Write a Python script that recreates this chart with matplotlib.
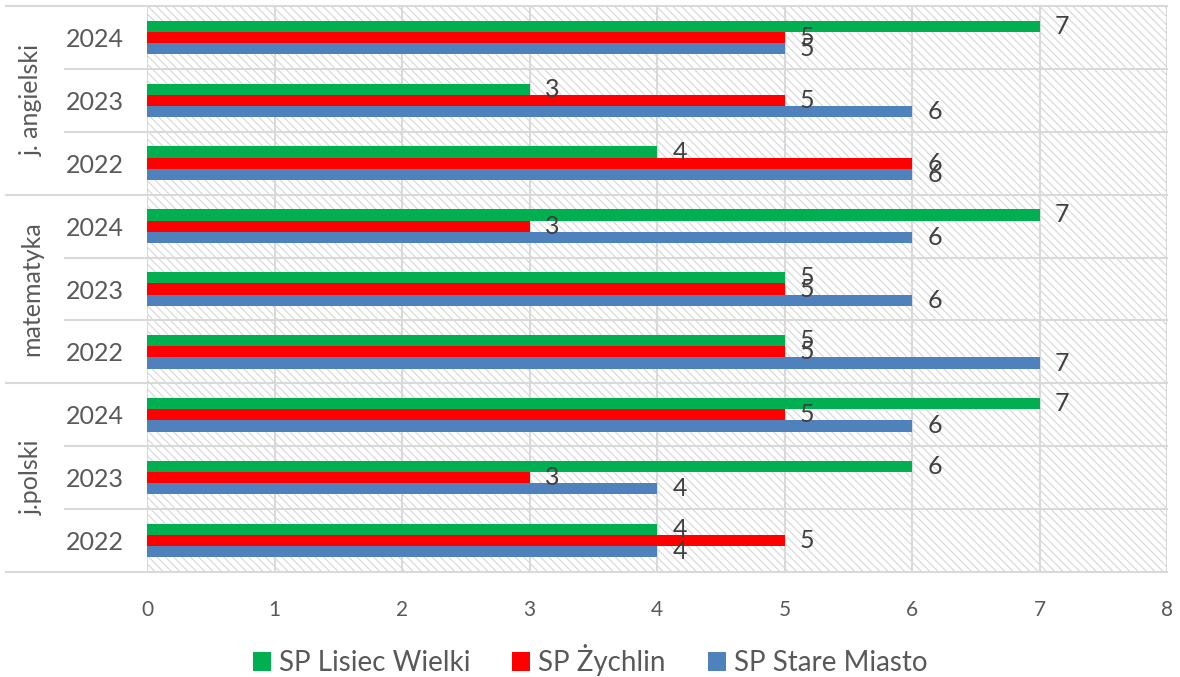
import numpy as np
import matplotlib.pyplot as plt
from matplotlib.patches import Rectangle
from matplotlib.transforms import blended_transform_factory

plt.rcParams['font.family'] = ['Lato', 'DejaVu Sans']
plt.rcParams['hatch.linewidth'] = 0.8

# rows from bottom to top
subjects = ["j.polski", "matematyka", "j. angielski"]
years = ["2022", "2023", "2024"]
schools = ["SP Lisiec Wielki", "SP Żychlin", "SP Stare Miasto"]
colors = ["#00b050", "#ff0000", "#4f81bd"]

lisiec = [4, 6, 7, 5, 5, 7, 4, 3, 7]
zychlin = [5, 3, 5, 5, 5, 3, 6, 5, 5]
stare = [4, 4, 6, 7, 6, 6, 6, 6, 5]
series = [lisiec, zychlin, stare]

grid_c = "#d9d9d9"
text_c = "#595959"
label_c = "#404040"

fig = plt.figure(figsize=(11.8, 6.77), dpi=100)
ax = fig.add_axes([147 / 1180, 1 - 572 / 677, 1020 / 1180, 566 / 677])

n_rows = len(lisiec)
y = np.arange(n_rows)
bh = 0.178
offsets = [bh, 0, -bh]

# hatched plot background
ax.add_patch(Rectangle((0, -0.5), 8, n_rows, facecolor="white", edgecolor="#d6d6d6",
                       hatch="\\\\\\\\", linewidth=0, zorder=0))

for vals, col, off, name in zip(series, colors, offsets, schools):
    ax.barh(y + off, vals, height=bh, color=col, label=name, zorder=3)
    for yi, v in zip(y, vals):
        ax.annotate(str(v), xy=(v, yi + off), xytext=(11, 0), textcoords="offset points",
                    va="center", ha="left", fontsize=18, color=label_c, zorder=4)

ax.set_xlim(0, 8)
ax.set_ylim(-0.5, n_rows - 0.5)
ax.set_xticks(range(0, 9))
ax.tick_params(axis="x", length=0, labelsize=15, colors=text_c, pad=20)
ax.set_yticks(y)
ax.set_yticklabels(years * len(subjects))
ax.tick_params(axis="y", length=0, labelsize=18, colors=text_c, pad=17)

for s in ax.spines.values():
    s.set_visible(False)
for xv in range(0, 9):
    ax.axvline(xv, color=grid_c, lw=1.5, zorder=1)

# row separators, longer ones between subjects
tr = blended_transform_factory(ax.transAxes, ax.transData)
for k in range(n_rows + 1):
    yb = k - 0.5
    x0 = -0.138 if k % 3 == 0 else -0.080
    ax.plot([x0, 1], [yb, yb], color=grid_c, lw=1.5, transform=tr, clip_on=False, zorder=1)

for i, subj in enumerate(subjects):
    ax.text(-0.113, i * 3 + 1, subj, transform=tr, rotation=90, ha="center", va="center",
            fontsize=18, color=text_c)

leg = ax.legend(loc="center", bbox_to_anchor=(0.5, 1 - 660 / 677), bbox_transform=fig.transFigure,
                ncol=3, frameon=False, fontsize=20, handlelength=0.65, handleheight=0.65,
                handletextpad=0.3, columnspacing=1.5)
for t in leg.get_texts():
    t.set_color(text_c)

fig.savefig("out.png", dpi=100)
